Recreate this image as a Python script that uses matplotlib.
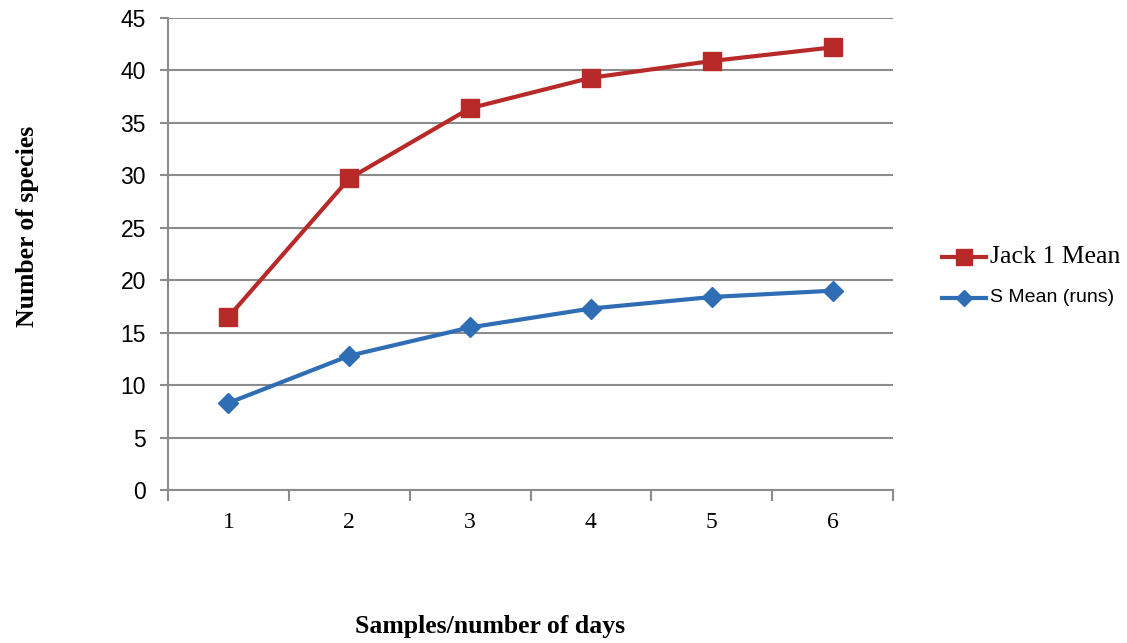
import numpy as np
import matplotlib.pyplot as plt
from matplotlib.lines import Line2D

categories = ['1', '2', '3', '4', '5', '6']
jack1_mean = [16.5, 29.7, 36.4, 39.3, 40.9, 42.2]
s_mean = [8.3, 12.8, 15.5, 17.3, 18.4, 19.0]
yticks = [0, 5, 10, 15, 20, 25, 30, 35, 40, 45]

red = '#B8292A'
blue = '#2F6DB5'
grid_col = '#8C8C8C'

fig = plt.figure(figsize=(11.27, 6.43), dpi=100)
ax = fig.add_axes([168 / 1127, 1 - 490 / 643, (893 - 168) / 1127, (490 - 18) / 643])

x = np.arange(len(categories))
ax.plot(x, jack1_mean, color=red, lw=3, marker='s', ms=13, zorder=3)
ax.plot(x, s_mean, color=blue, lw=3, marker='D', ms=10, zorder=3)

ax.set_xlim(-0.5, len(categories) - 0.5)
ax.set_ylim(0, 45)
ax.set_yticks(yticks)
ax.set_yticklabels([str(v) for v in yticks], family='Liberation Sans', fontsize=16.5)
ax.yaxis.grid(True, color=grid_col, lw=1.5)
ax.set_axisbelow(True)

ax.set_xticks(x)
ax.set_xticklabels(categories, family='Liberation Serif', fontsize=17)
ax.tick_params(axis='x', length=0, pad=16)
ax.set_xticks(np.arange(-0.5, len(categories)), minor=True)
ax.tick_params(axis='x', which='minor', length=8, width=1.5, color=grid_col, direction='out')
ax.tick_params(axis='y', length=6, width=1.5, color=grid_col, direction='out', pad=10)

for s in ['top', 'right']:
    ax.spines[s].set_visible(False)
for s in ['left', 'bottom']:
    ax.spines[s].set_color(grid_col)
    ax.spines[s].set_linewidth(1.5)

fig.text(490 / 1127, 1 - 627 / 643, 'Samples/number of days', ha='center', va='center',
         family='Liberation Serif', fontweight='bold', fontsize=18.5)
fig.text(28 / 1127, 1 - 226 / 643, 'Number of species', ha='center', va='center', rotation=90,
         family='Liberation Serif', fontweight='bold', fontsize=18.5)

# legend drawn by hand to mix fonts like the original
fig.add_artist(Line2D([942 / 1127, 986 / 1127], [1 - 257 / 643] * 2, color=red, lw=3))
fig.add_artist(Line2D([964 / 1127], [1 - 257 / 643], color=red, marker='s', ms=11))
fig.text(990 / 1127, 1 - 257 / 643, 'Jack 1 Mean', va='center', family='Liberation Serif', fontsize=18.5)
fig.add_artist(Line2D([942 / 1127, 986 / 1127], [1 - 298 / 643] * 2, color=blue, lw=3))
fig.add_artist(Line2D([964 / 1127], [1 - 298 / 643], color=blue, marker='D', ms=8))
fig.text(990 / 1127, 1 - 298 / 643, 'S Mean (runs)', va='center', family='Liberation Sans', fontsize=14)

fig.savefig('out.png', dpi=100)
